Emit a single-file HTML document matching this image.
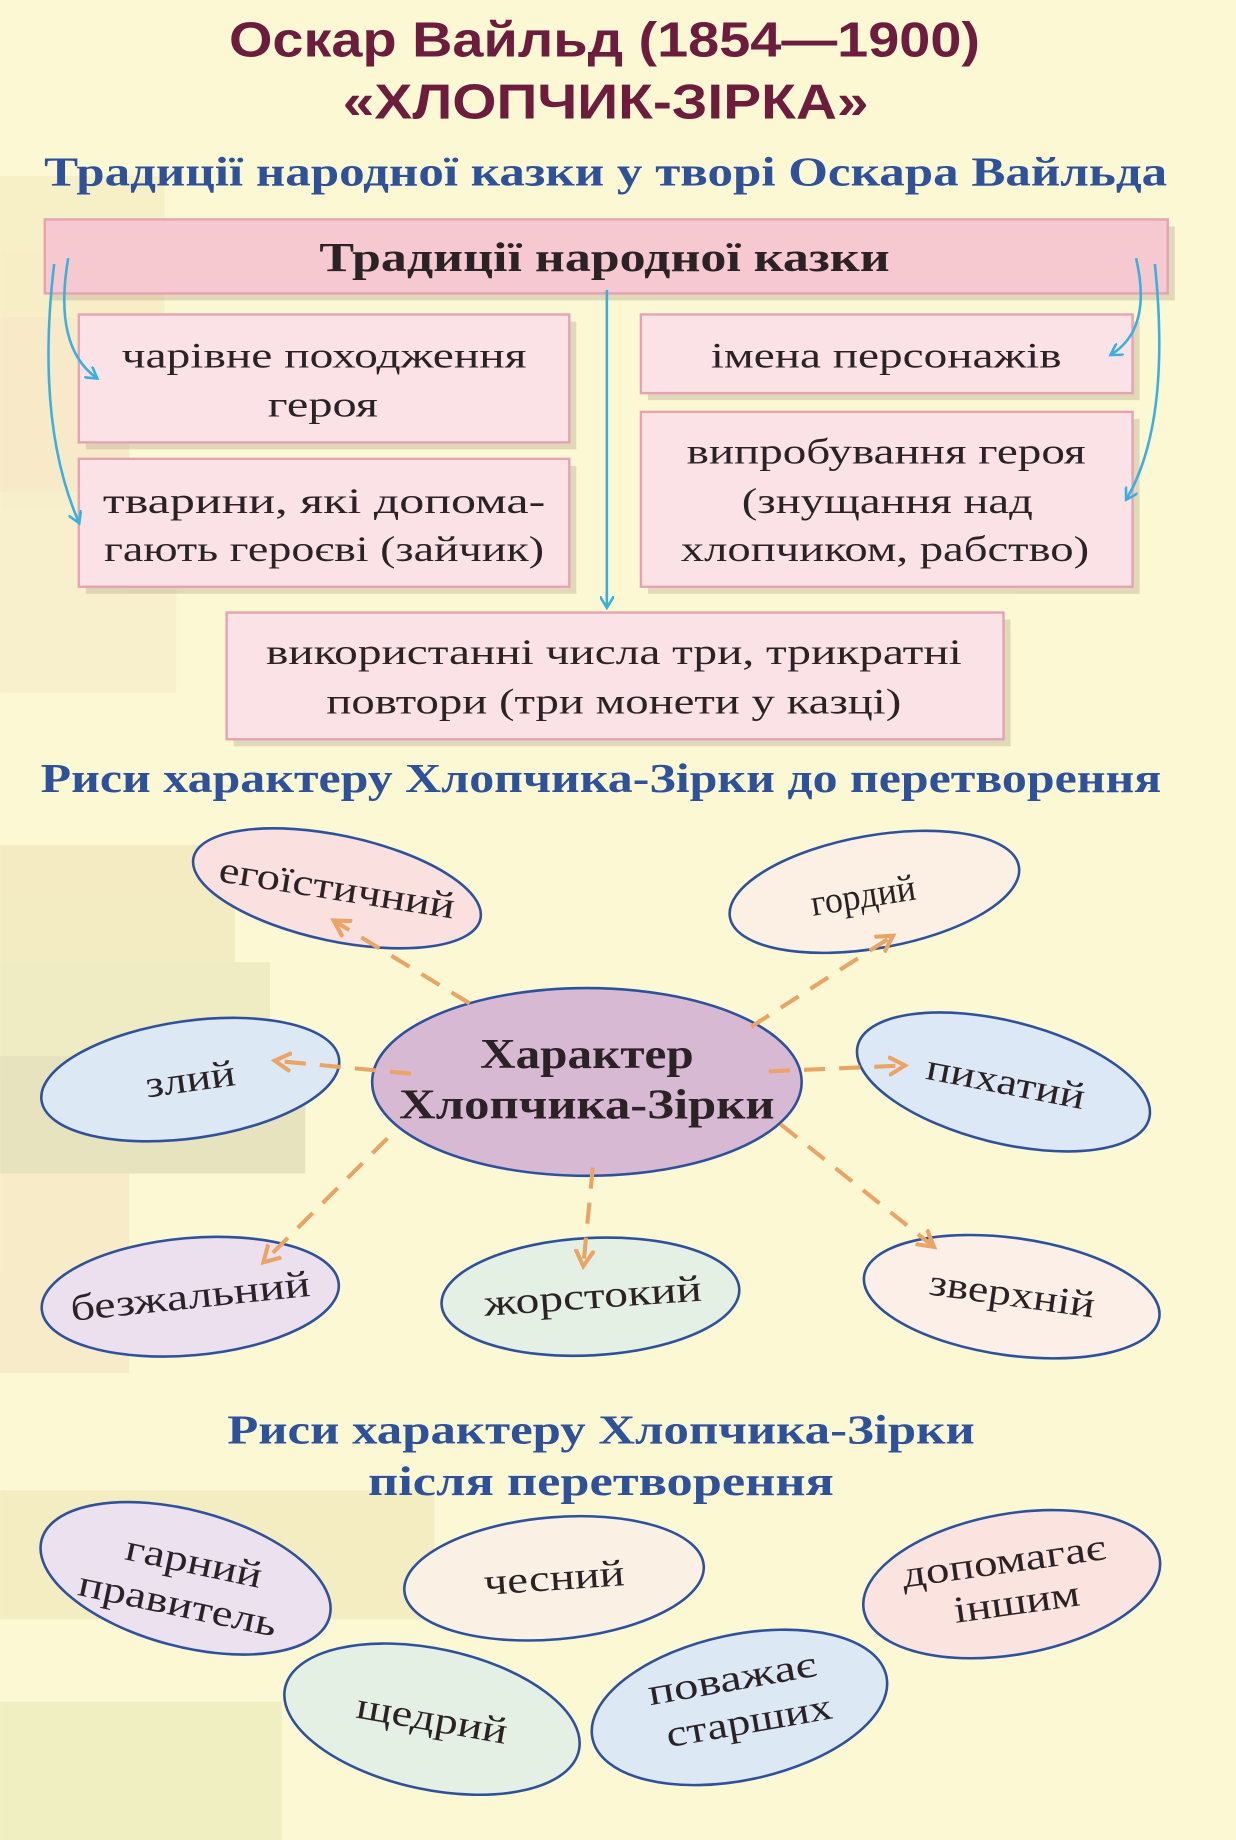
<!DOCTYPE html>
<html><head><meta charset="utf-8"><style>
html,body{margin:0;padding:0;background:#fcf8d6;}
svg{display:block}
.t{font-family:"Liberation Serif",serif;fill:#2b2226;font-size:31px;text-anchor:middle}
.h{font-family:"Liberation Serif",serif;fill:#2e519c;font-size:35px;font-weight:bold;text-anchor:middle}
.e{font-family:"Liberation Serif",serif;fill:#2b2226;font-size:32px;text-anchor:middle}
</style></head><body>
<svg width="1236" height="1840" viewBox="0 0 1053 1568" xmlns="http://www.w3.org/2000/svg">
<defs>
<marker id="ba" markerWidth="12" markerHeight="12" refX="9" refY="6" orient="auto" markerUnits="userSpaceOnUse"><path d="M0,0 L10,6 L0,12" fill="none" stroke="#3ab0e0" stroke-width="2.2"/></marker>
<marker id="oa" markerWidth="18" markerHeight="18" refX="13" refY="9" orient="auto" markerUnits="userSpaceOnUse"><path d="M0,1 L14,9 L0,17" fill="none" stroke="#eaa464" stroke-width="3.5"/></marker>
</defs>
<rect width="1053" height="1568" fill="#fcf8d4"/>
<g opacity="0.4">
<rect x="0" y="150" width="140" height="120" fill="#f0e0b0"/>
<rect x="0" y="270" width="110" height="150" fill="#f3d4b8"/>
<rect x="0" y="420" width="150" height="170" fill="#f2e4c0"/>
<rect x="0" y="720" width="200" height="100" fill="#e8d8a8"/>
<rect x="0" y="820" width="230" height="100" fill="#dcd8a8"/>
<rect x="0" y="900" width="260" height="100" fill="#c9c4a0"/>
<rect x="0" y="1000" width="110" height="170" fill="#f0d8b8"/>
<rect x="0" y="1270" width="370" height="110" fill="#e8dca8"/>
<rect x="0" y="1450" width="240" height="118" fill="#dfe0a8"/>
</g>
<text x="515" y="48" text-anchor="middle" font-family="Liberation Sans,sans-serif" font-weight="bold" font-size="42" fill="#6d1c3e" textLength="640" lengthAdjust="spacingAndGlyphs">Оскар Вайльд (1854—1900)</text>
<text x="516" y="101" text-anchor="middle" font-family="Liberation Sans,sans-serif" font-weight="bold" font-size="42" fill="#6d1c3e" textLength="448" lengthAdjust="spacingAndGlyphs">«ХЛОПЧИК-ЗІРКА»</text>
<text class="h" x="516" y="158" textLength="957" lengthAdjust="spacingAndGlyphs">Традиції народної казки у творі Оскара Вайльда</text>
<g fill="#c8b8a0" opacity="0.5">
<rect x="44" y="193" width="957" height="63"/>
<rect x="73" y="274" width="418" height="109"/>
<rect x="73" y="397" width="418" height="109"/>
<rect x="552" y="274" width="419" height="67"/>
<rect x="552" y="357" width="419" height="149"/>
<rect x="199" y="528" width="662" height="108"/>
</g>
<g stroke="#e6a2b2" stroke-width="2">
<rect x="38" y="187" width="957" height="63" fill="#f6c8d0"/>
<rect x="67" y="268" width="418" height="109" fill="#fbe2e6"/>
<rect x="67" y="391" width="418" height="109" fill="#fbe2e6"/>
<rect x="546" y="268" width="419" height="67" fill="#fbe2e6"/>
<rect x="546" y="351" width="419" height="149" fill="#fbe2e6"/>
<rect x="193" y="522" width="662" height="108" fill="#fbe2e6"/>
</g>
<text x="515" y="231" text-anchor="middle" font-family="Liberation Serif,serif" font-weight="bold" font-size="35" fill="#2b2226" textLength="486" lengthAdjust="spacingAndGlyphs">Традиції народної казки</text>
<text class="t" x="276" y="313" textLength="345" lengthAdjust="spacingAndGlyphs">чарівне походження</text>
<text class="t" x="275" y="355" textLength="94" lengthAdjust="spacingAndGlyphs">героя</text>
<text class="t" x="276" y="437" textLength="377" lengthAdjust="spacingAndGlyphs">тварини,  які  допома-</text>
<text class="t" x="276" y="478" textLength="375" lengthAdjust="spacingAndGlyphs">гають героєві (зайчик)</text>
<text class="t" x="755" y="313" textLength="299" lengthAdjust="spacingAndGlyphs">імена персонажів</text>
<text class="t" x="755" y="395" textLength="340" lengthAdjust="spacingAndGlyphs">випробування героя</text>
<text class="t" x="756" y="437" textLength="248" lengthAdjust="spacingAndGlyphs">(знущання над</text>
<text class="t" x="754" y="478" textLength="348" lengthAdjust="spacingAndGlyphs">хлопчиком, рабство)</text>
<text class="t" x="523" y="566" textLength="593" lengthAdjust="spacingAndGlyphs">використанні числа три, трикратні</text>
<text class="t" x="523" y="608" textLength="490" lengthAdjust="spacingAndGlyphs">повтори (три монети у казці)</text>
<g stroke="#3ab0e0" stroke-width="2.2" fill="none" marker-end="url(#ba)">
<path d="M517,247 L517,517"/>
<path d="M58,220 Q45,295 82,322"/>
<path d="M46,225 Q30,360 67,445"/>
<path d="M968,220 Q982,280 947,302"/>
<path d="M984,225 Q998,360 960,425"/>
</g>
<text class="h" x="512" y="675" textLength="955" lengthAdjust="spacingAndGlyphs">Риси характеру Хлопчика-Зірки до перетворення</text>
<g stroke="#2e519c" stroke-width="2.2">
<ellipse cx="500" cy="922" rx="183" ry="80" fill="#d8b9d3"/>
<ellipse cx="287" cy="757" rx="125" ry="45" fill="#fbe0e0" transform="rotate(12 287 757)"/>
<ellipse cx="745" cy="760" rx="125" ry="48" fill="#fcf0e4" transform="rotate(-10 745 760)"/>
<ellipse cx="162" cy="920" rx="128" ry="50" fill="#dde8f5" transform="rotate(-8 162 920)"/>
<ellipse cx="855" cy="922" rx="128" ry="52" fill="#dce8f6" transform="rotate(14 855 922)"/>
<ellipse cx="162" cy="1105" rx="127" ry="50" fill="#ece0ee" transform="rotate(-5 162 1105)"/>
<ellipse cx="503" cy="1105" rx="127" ry="50" fill="#e4f0e4" transform="rotate(-3 503 1105)"/>
<ellipse cx="862" cy="1105" rx="127" ry="50" fill="#fbefe8" transform="rotate(8 862 1105)"/>
<ellipse cx="158" cy="1345" rx="127" ry="58" fill="#ece2ef" transform="rotate(15 158 1345)"/>
<ellipse cx="472" cy="1345" rx="128" ry="52" fill="#fbf0e4" transform="rotate(-5 472 1345)"/>
<ellipse cx="862" cy="1350" rx="128" ry="60" fill="#fbe3df" transform="rotate(-10 862 1350)"/>
<ellipse cx="368" cy="1465" rx="128" ry="60" fill="#e4f0e4" transform="rotate(12 368 1465)"/>
<ellipse cx="630" cy="1455" rx="128" ry="62" fill="#dde8f5" transform="rotate(-12 630 1455)"/>
</g>
<g stroke="#eaa464" stroke-width="3.5" stroke-dasharray="18,12" fill="none" marker-end="url(#oa)">
<path d="M400,855 L285,785"/>
<path d="M640,875 L760,798"/>
<path d="M350,915 L235,904"/>
<path d="M655,913 L770,908"/>
<path d="M330,970 L225,1075"/>
<path d="M505,995 L497,1078"/>
<path d="M665,958 L795,1062"/>
</g>
<text x="500" y="910" text-anchor="middle" font-family="Liberation Serif,serif" font-weight="bold" font-size="36" fill="#2b2226" textLength="182" lengthAdjust="spacingAndGlyphs">Характер</text>
<text x="500" y="953" text-anchor="middle" font-family="Liberation Serif,serif" font-weight="bold" font-size="36" fill="#2b2226" textLength="320" lengthAdjust="spacingAndGlyphs">Хлопчика-Зірки</text>
<text class="e" x="287" y="767" transform="rotate(9 287 757)" textLength="203" lengthAdjust="spacingAndGlyphs">егоїстичний</text>
<text class="e" x="735" y="772" transform="rotate(-9 745 760)" textLength="90" lengthAdjust="spacingAndGlyphs">гордий</text>
<text class="e" x="162" y="930" transform="rotate(-8 162 920)" textLength="77" lengthAdjust="spacingAndGlyphs">злий</text>
<text class="e" x="857" y="932" transform="rotate(11 855 922)" textLength="137" lengthAdjust="spacingAndGlyphs">пихатий</text>
<text class="e" x="162" y="1115" transform="rotate(-6 162 1105)" textLength="205" lengthAdjust="spacingAndGlyphs">безжальний</text>
<text class="e" x="505" y="1115" transform="rotate(-4 503 1105)" textLength="186" lengthAdjust="spacingAndGlyphs">жорстокий</text>
<text class="e" x="862" y="1113" transform="rotate(8 862 1105)" textLength="142" lengthAdjust="spacingAndGlyphs">зверхній</text>
<text class="h" x="512" y="1230" textLength="637" lengthAdjust="spacingAndGlyphs">Риси характеру Хлопчика-Зірки</text>
<text class="h" x="512" y="1274" textLength="397" lengthAdjust="spacingAndGlyphs">після перетворення</text>
<text class="e" x="162" y="1340" transform="rotate(12 158 1345)" textLength="118" lengthAdjust="spacingAndGlyphs">гарний</text>
<text class="e" x="156" y="1378" transform="rotate(12 158 1345)" textLength="172" lengthAdjust="spacingAndGlyphs">правитель</text>
<text class="e" x="472" y="1355" transform="rotate(-4 472 1345)" textLength="120" lengthAdjust="spacingAndGlyphs">чесний</text>
<text class="e" x="858" y="1340" transform="rotate(-8 862 1350)" textLength="175" lengthAdjust="spacingAndGlyphs">допомагає</text>
<text class="e" x="864" y="1376" transform="rotate(-8 862 1350)" textLength="108" lengthAdjust="spacingAndGlyphs">іншим</text>
<text class="e" x="368" y="1475" transform="rotate(10 368 1465)" textLength="130" lengthAdjust="spacingAndGlyphs">щедрий</text>
<text class="e" x="628" y="1440" transform="rotate(-10 630 1455)" textLength="145" lengthAdjust="spacingAndGlyphs">поважає</text>
<text class="e" x="636" y="1478" transform="rotate(-10 630 1455)" textLength="143" lengthAdjust="spacingAndGlyphs">старших</text>
</svg>
</body></html>
